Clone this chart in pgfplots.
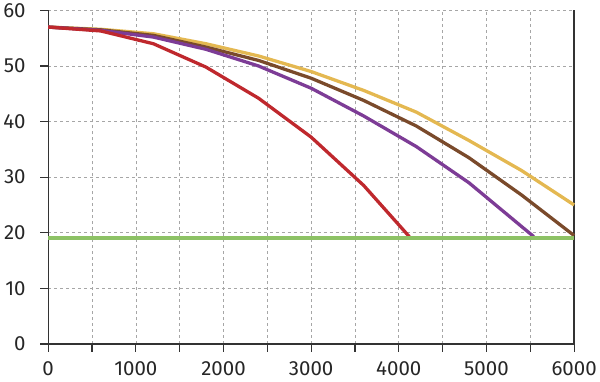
\documentclass[border={0pt 3pt 0pt 0pt}]{standalone}
\usepackage{pgfplots}
\pgfplotsset{compat=1.18}
\usepackage{fontspec}
\setmainfont{Fira Sans}
\definecolor{cyellow}{HTML}{E4B851}
\definecolor{cbrown}{HTML}{7A4A2B}
\definecolor{cpurple}{HTML}{7D3C96}
\definecolor{cred}{HTML}{BF282D}
\definecolor{cgreen}{HTML}{8DC265}
\definecolor{caxis}{HTML}{333333}
\begin{document}
\begin{tikzpicture}
\begin{axis}[
  scale only axis,
  width=525bp, height=333bp,
  xmin=0, xmax=6000, ymin=0, ymax=60,
  axis x line*=bottom,
  axis y line*=box,
  ytick pos=left,
  xtick={0,500,...,6000},
  xticklabels={0,,1000,,2000,,3000,,4000,,5000,,6000},
  ytick={0,10,...,60},
  tick align=outside,
  major tick length=8bp,
  every tick/.style={caxis, line width=1.2pt},
  axis line style={caxis, line width=1.4pt},
  grid=major,
  major grid style={dash pattern=on 3pt off 3pt, gray!70, line width=0.7pt},
  tick label style={font=\fontsize{20.5}{24}\selectfont, text=black!85},
  yticklabel shift=11bp,
  xticklabel shift=6bp,
  /pgf/number format/assume math mode=true,
  clip=false,
]
\addplot[cyellow, line width=3.3pt] coordinates {(0,57) (600,56.6) (1200,55.8) (1800,54.0) (2400,51.8) (3000,49.0) (3600,45.6) (4200,41.7) (4800,36.6) (5400,31.2) (6000,25.0)};
\addplot[cbrown, line width=3.3pt] coordinates {(0,57) (600,56.5) (1200,55.5) (1800,53.4) (2400,51.0) (3000,47.8) (3600,43.8) (4200,39.2) (4800,33.5) (5400,26.8) (6000,19.5)};
\addplot[cpurple, line width=3.3pt] coordinates {(0,57) (600,56.4) (1200,55.2) (1800,53.0) (2400,50.0) (3000,46.0) (3600,41.0) (4200,35.5) (4800,29.0) (5540,19.3)};
\addplot[cred, line width=3.3pt] coordinates {(0,57) (600,56.3) (1200,54.0) (1800,49.8) (2400,44.2) (3000,37.2) (3600,28.5) (4120,19.3)};
\addplot[cgreen, line width=4pt] coordinates {(0,19) (6000,19)};
\end{axis}
\end{tikzpicture}
\end{document}
